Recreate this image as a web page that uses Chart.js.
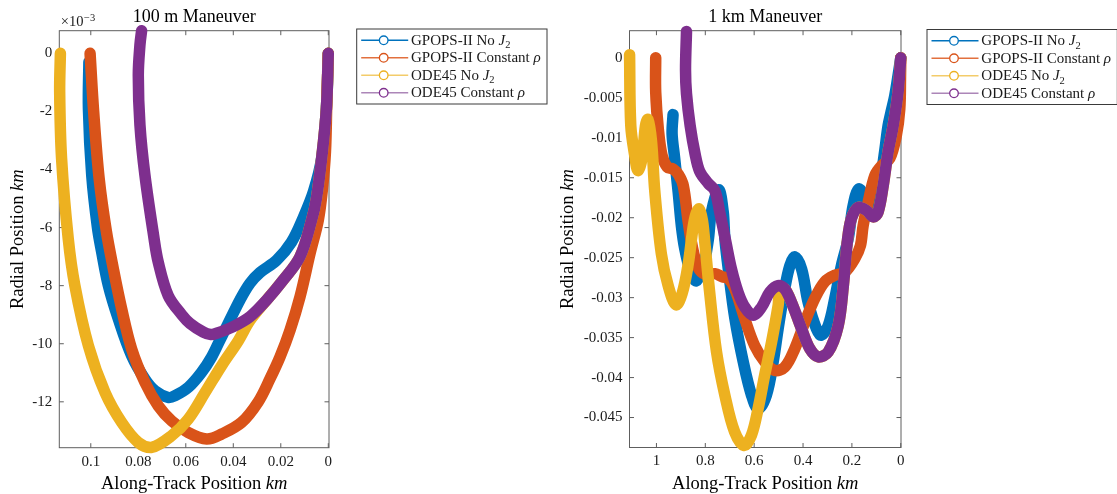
<!DOCTYPE html>
<html><head><meta charset="utf-8">
<script src="https://cdn.jsdelivr.net/npm/chart.js@4/dist/chart.umd.min.js"></script>
<style>
html,body{margin:0;padding:0;background:#fff;}
#wrap{position:relative;width:1117px;height:494px;overflow:hidden;background:#fff;}
canvas{position:absolute;left:0;top:0;}
</style></head><body>
<div id="wrap"><canvas id="c1" width="1117" height="494"></canvas><canvas id="c2" width="1117" height="494"></canvas></div>
<script>
// ---------- series labels / colours ----------
const seriesNames = ['GPOPS-II No $J_2$', 'GPOPS-II Constant $\\rho$', 'ODE45 No $J_2$', 'ODE45 Constant $\\rho$'];
const seriesColors = ['#0072BD', '#D95319', '#EDB120', '#7E2F8E'];
const legendLineColors = ['#0072BD', '#E2703E', '#F3CC6A', '#AC86B8'];

// ---------- 100 m maneuver (x: km, y: x10^-3 km) ----------
const m100XTicks = [0.1, 0.08, 0.06, 0.04, 0.02, 0];
const m100YTicks = [0, -2, -4, -6, -8, -10, -12];
const m100_gpopsNoJ2_x = [0, 0.0008, 0.0028, 0.0062, 0.0105, 0.0155, 0.0217, 0.0288, 0.033, 0.0372, 0.0414, 0.0456, 0.0491, 0.0535, 0.0589, 0.0645, 0.0674, 0.073, 0.0772, 0.0828, 0.0884, 0.0926, 0.0954, 0.0972, 0.0996, 0.101, 0.1008];
const m100_gpopsNoJ2_y = [0, -1.9, -3.62, -4.75, -5.65, -6.5, -7.12, -7.55, -7.92, -8.49, -9.18, -9.87, -10.45, -11.0, -11.5, -11.79, -11.85, -11.62, -11.22, -10.41, -9.15, -8.0, -6.85, -6.0, -4.2, -1.9, -0.3];
const m100_gpopsRho_x = [0, 0.0006, 0.0012, 0.0025, 0.0042, 0.0077, 0.0119, 0.0161, 0.0203, 0.0245, 0.0295, 0.0365, 0.0449, 0.0512, 0.0589, 0.0659, 0.0716, 0.0772, 0.0828, 0.087, 0.0905, 0.0935, 0.0965, 0.0988, 0.1003];
const m100_gpopsRho_y = [0, -1.6, -3.4, -4.7, -5.74, -6.9, -8.38, -9.53, -10.45, -11.2, -12.0, -12.71, -13.11, -13.28, -13.06, -12.66, -12.14, -11.33, -10.18, -8.8, -7.42, -6.1, -4.3, -2.0, 0];
const m100_odeNoJ2_x = [0, 0.0008, 0.0028, 0.005, 0.007, 0.0119, 0.0189, 0.0259, 0.033, 0.0379, 0.0449, 0.0519, 0.059, 0.066, 0.0744, 0.080, 0.087, 0.094, 0.101, 0.1067, 0.1095, 0.1123, 0.1131, 0.1128];
const m100_odeNoJ2_y = [0, -1.9, -3.62, -5.0, -5.74, -7.0, -7.8, -8.49, -9.2, -9.9, -10.75, -11.68, -12.6, -13.17, -13.57, -13.4, -12.71, -11.68, -10.07, -8.0, -6.38, -3.62, -1.33, 0];
const m100_odeRho_x = [0, 0.0008, 0.0028, 0.005, 0.007, 0.0119, 0.0189, 0.0259, 0.033, 0.04, 0.047, 0.0495, 0.0526, 0.0582, 0.0617, 0.0674, 0.0716, 0.0735, 0.0772, 0.0793, 0.080, 0.0793, 0.0786];
const m100_odeRho_y = [0, -1.9, -3.62, -5.0, -5.74, -7.0, -7.8, -8.49, -9.07, -9.41, -9.64, -9.68, -9.6, -9.3, -9.0, -8.34, -7.19, -6.3, -4.2, -2.47, -0.75, 0.29, 0.78];

// ---------- 1 km maneuver (x: km, y: km) ----------
const km1XTicks = [1, 0.8, 0.6, 0.4, 0.2, 0];
const km1YTicks = [0, -0.005, -0.01, -0.015, -0.02, -0.025, -0.03, -0.035, -0.04, -0.045];
const km1_gpopsNoJ2_x = [0, 0.01, 0.025, 0.04, 0.052, 0.065, 0.085, 0.105, 0.125, 0.147, 0.172, 0.195, 0.215, 0.243, 0.270, 0.297, 0.325, 0.345, 0.379, 0.406, 0.434, 0.454, 0.475, 0.502, 0.522, 0.55, 0.584, 0.611, 0.645, 0.679, 0.706, 0.72, 0.727, 0.745, 0.775, 0.788, 0.809, 0.837, 0.862, 0.884, 0.898, 0.911, 0.926, 0.936, 0.932];
const km1_gpopsNoJ2_y = [0, -0.002, -0.0048, -0.0068, -0.0085, -0.0115, -0.0158, -0.0188, -0.0198, -0.0176, -0.0164, -0.0185, -0.0226, -0.026, -0.0301, -0.0335, -0.0347, -0.0339, -0.0306, -0.0264, -0.0249, -0.026, -0.0289, -0.0339, -0.038, -0.0422, -0.0439, -0.0422, -0.038, -0.0326, -0.0264, -0.0226, -0.0192, -0.0165, -0.0193, -0.0228, -0.0262, -0.0279, -0.0266, -0.0239, -0.021, -0.0168, -0.0124, -0.0095, -0.0071];
const km1_gpopsRho_x = [0, 0.001, 0.004, 0.018, 0.045, 0.079, 0.106, 0.133, 0.154, 0.165, 0.188, 0.229, 0.270, 0.311, 0.352, 0.393, 0.434, 0.475, 0.516, 0.557, 0.598, 0.639, 0.679, 0.706, 0.73, 0.761, 0.8, 0.83, 0.852, 0.87, 0.89, 0.91, 0.932, 0.955, 0.977, 0.992, 1.003, 1.003];
const km1_gpopsRho_y = [0, -0.0025, -0.0064, -0.0097, -0.0126, -0.0135, -0.0147, -0.018, -0.021, -0.0235, -0.0251, -0.0268, -0.0272, -0.028, -0.0301, -0.0331, -0.0364, -0.0387, -0.0391, -0.038, -0.036, -0.0326, -0.0289, -0.0276, -0.0274, -0.027, -0.0271, -0.0262, -0.0238, -0.0205, -0.016, -0.0146, -0.0139, -0.0137, -0.0122, -0.009, -0.0043, 0];
const km1_odeNoJ2_x = [0, 0.011, 0.031, 0.052, 0.072, 0.093, 0.113, 0.140, 0.174, 0.202, 0.218, 0.235, 0.256, 0.297, 0.338, 0.372, 0.406, 0.447, 0.475, 0.495, 0.502, 0.529, 0.557, 0.584, 0.611, 0.641, 0.680, 0.72, 0.754, 0.783, 0.803, 0.812, 0.825, 0.838, 0.85, 0.87, 0.895, 0.92, 0.952, 0.98, 1.007, 1.020, 1.035, 1.045, 1.059, 1.076, 1.089, 1.105, 1.110];
const km1_odeNoJ2_y = [0, -0.0043, -0.0085, -0.0118, -0.016, -0.0193, -0.0199, -0.0191, -0.0187, -0.0201, -0.0228, -0.0285, -0.0335, -0.0368, -0.0374, -0.0364, -0.0339, -0.0306, -0.0289, -0.0292, -0.031, -0.0356, -0.0397, -0.0439, -0.0472, -0.0485, -0.0468, -0.0422, -0.0368, -0.0291, -0.0228, -0.0203, -0.0189, -0.0195, -0.0212, -0.0258, -0.0295, -0.0309, -0.0285, -0.0245, -0.0166, -0.0105, -0.0077, -0.0085, -0.0126, -0.0141, -0.0122, -0.0085, 0.0004];
const km1_odeRho_x = [0, 0.011, 0.031, 0.052, 0.072, 0.093, 0.113, 0.140, 0.174, 0.202, 0.218, 0.235, 0.256, 0.297, 0.338, 0.372, 0.406, 0.447, 0.475, 0.502, 0.536, 0.570, 0.604, 0.638, 0.666, 0.693, 0.716, 0.741, 0.761, 0.788, 0.823, 0.842, 0.862, 0.877, 0.881, 0.877];
const km1_odeRho_y = [0, -0.0043, -0.0085, -0.0118, -0.016, -0.0193, -0.0199, -0.0191, -0.0187, -0.0201, -0.0228, -0.0285, -0.0335, -0.0368, -0.0374, -0.0364, -0.0339, -0.0306, -0.0289, -0.0285, -0.0293, -0.0312, -0.0322, -0.0312, -0.0293, -0.0264, -0.023, -0.0193, -0.0166, -0.0157, -0.0142, -0.012, -0.0085, -0.0045, -0.0015, 0.0033];

// ---------- rendering helpers ----------
const FONT = "'Liberation Serif','Times New Roman',serif";
const TXT = '#1a1a1a';
const AXC = '#5e5e5e';

function richTokens(str){
  const out = [];
  str.split('$').forEach((s, i) => {
    if (!s) return;
    if (i % 2 === 0) { out.push({t: s, it: false, sub: false}); return; }
    s = s.replace(/\\rho/g, '\u03C1');
    const parts = s.split('_');
    if (parts[0]) out.push({t: parts[0], it: true, sub: false});
    if (parts[1]) out.push({t: parts[1], it: false, sub: true});
  });
  return out;
}
function tokFont(t, size){ return (t.it ? 'italic ' : '') + (t.sub ? size * 0.7 : size) + 'px ' + FONT; }
function drawRich(ctx, str, x, y, size, align, color){
  const toks = richTokens(str);
  let w = 0;
  toks.forEach(t => { ctx.font = tokFont(t, size); t.w = ctx.measureText(t.t).width; w += t.w; });
  let cx = align === 'center' ? x - w / 2 : (align === 'right' ? x - w : x);
  ctx.fillStyle = color; ctx.textAlign = 'left'; ctx.textBaseline = 'alphabetic';
  toks.forEach(t => { ctx.font = tokFont(t, size); ctx.fillText(t.t, cx, y + (t.sub ? size * 0.22 : 0)); cx += t.w; });
}

function framePlugin(p){
  return {
    id: 'frame_' + p.canvas,
    beforeDatasetsDraw(chart){
      const ctx = chart.ctx, a = chart.chartArea, xs = chart.scales.x, ys = chart.scales.y;
      ctx.save();
      ctx.strokeStyle = AXC; ctx.lineWidth = 1;
      ctx.strokeRect(a.left, a.top, a.right - a.left, a.bottom - a.top);
      ctx.beginPath();
      const tl = 4.5;
      p.xTicks.forEach(v => { const px = xs.getPixelForValue(v);
        ctx.moveTo(px, a.bottom); ctx.lineTo(px, a.bottom - tl);
        ctx.moveTo(px, a.top); ctx.lineTo(px, a.top + tl); });
      p.yTicks.forEach(v => { const py = ys.getPixelForValue(v);
        ctx.moveTo(a.left, py); ctx.lineTo(a.left + tl, py);
        ctx.moveTo(a.right, py); ctx.lineTo(a.right - tl, py); });
      ctx.stroke();
      ctx.restore();
    },
    afterDraw(chart){
      const ctx = chart.ctx, a = chart.chartArea;
      ctx.save();
      const cxm = (a.left + a.right) / 2, cym = (a.top + a.bottom) / 2;
      drawRich(ctx, p.title, cxm, 22.3, 18, 'center', '#000');
      drawRich(ctx, p.xlabel, cxm, 488.5, 18.5, 'center', '#000');
      ctx.save(); ctx.translate(p.ylabelX, cym); ctx.rotate(-Math.PI / 2);
      drawRich(ctx, p.ylabel, 0, 0, 18.5, 'center', '#000');
      ctx.restore();
      if (p.exponent) {
        ctx.fillStyle = TXT; ctx.textAlign = 'left'; ctx.textBaseline = 'alphabetic';
        ctx.font = '14.5px ' + FONT; ctx.fillText('\u00D710', a.left + 1.5, 25.8);
        const w = ctx.measureText('\u00D710').width;
        ctx.font = '10.5px ' + FONT; ctx.fillText('\u22123', a.left + 1.5 + w + 0.5, 20.8);
      }
      // legend
      const L = p.legend;
      ctx.fillStyle = '#fff'; ctx.fillRect(L.x, L.y, 190.3, 75);
      ctx.strokeStyle = '#3a3a3a'; ctx.lineWidth = 1; ctx.strokeRect(L.x, L.y, 190.3, 75);
      seriesNames.forEach((name, i) => {
        const ry = L.y + 11.3 + i * 17.5;
        ctx.strokeStyle = legendLineColors[i]; ctx.lineWidth = 1.4;
        ctx.beginPath(); ctx.moveTo(L.x + 4.5, ry); ctx.lineTo(L.x + 51.5, ry); ctx.stroke();
        ctx.fillStyle = '#fff'; ctx.strokeStyle = seriesColors[i]; ctx.lineWidth = 1.3;
        ctx.beginPath(); ctx.arc(L.x + 27, ry, 4.3, 0, Math.PI * 2); ctx.fill(); ctx.stroke();
        drawRich(ctx, name, L.x + 54.3, ry + 4.6, 15, 'left', TXT);
      });
      ctx.restore();
    }
  };
}

function buildChart(p){
  const datasets = p.series.map((s, i) => ({
    label: seriesNames[i],
    data: s[0].map((x, j) => ({x: x, y: s[1][j]})),
    borderColor: seriesColors[i],
    backgroundColor: seriesColors[i],
    borderWidth: 11.5,
    borderCapStyle: 'round',
    borderJoinStyle: 'round',
    pointRadius: 0, pointHoverRadius: 0,
    showLine: true, tension: 0.35, clip: 14,
    order: 4 - i
  }));
  const tickFont = {family: FONT, size: 15};
  return new Chart(document.getElementById(p.canvas), {
    type: 'scatter',
    data: {datasets},
    options: {
      responsive: false, animation: false, events: [],
      layout: {padding: {left: p.padL, top: p.area.top, right: 1117 - p.area.right, bottom: 0}},
      plugins: {legend: {display: false}, tooltip: {enabled: false}, title: {display: false}},
      scales: {
        x: {
          type: 'linear', reverse: true, min: p.xMin, max: p.xMax,
          afterBuildTicks: ax => { ax.ticks = p.xTicks.map(v => ({value: v})); },
          afterFit: ax => { ax.height = 494 - p.area.bottom; },
          grid: {display: false, drawTicks: false}, border: {display: false},
          ticks: {font: tickFont, color: TXT, padding: 5, maxRotation: 0, autoSkip: false, callback: v => String(v)}
        },
        y: {
          type: 'linear', min: p.yMin, max: p.yMax,
          afterBuildTicks: ax => { ax.ticks = p.yTicks.map(v => ({value: v})); },
          afterFit: ax => { ax.width = p.area.left - p.padL; },
          grid: {display: false, drawTicks: false}, border: {display: false},
          ticks: {font: tickFont, color: TXT, padding: 7, autoSkip: false, callback: v => String(v)}
        }
      }
    },
    plugins: [framePlugin(p)]
  });
}

buildChart({
  canvas: 'c1', title: '100 m Maneuver', xlabel: 'Along-Track Position $km$', ylabel: 'Radial Position $km$',
  padL: 0, area: {left: 59.3, right: 329, top: 30.7, bottom: 447.7},
  xMin: -0.0003, xMax: 0.11326, yMin: -13.58, yMax: 0.78,
  xTicks: m100XTicks, yTicks: m100YTicks, exponent: true, ylabelX: 22.5,
  legend: {x: 356.7, y: 29},
  series: [[m100_gpopsNoJ2_x, m100_gpopsNoJ2_y], [m100_gpopsRho_x, m100_gpopsRho_y], [m100_odeNoJ2_x, m100_odeNoJ2_y], [m100_odeRho_x, m100_odeRho_y]]
});
buildChart({
  canvas: 'c2', title: '1 km Maneuver', xlabel: 'Along-Track Position $km$', ylabel: 'Radial Position $km$',
  padL: 560, area: {left: 629.5, right: 901, top: 30.7, bottom: 447.5},
  xMin: -0.001, xMax: 1.1103, yMin: -0.04875, yMax: 0.0034,
  xTicks: km1XTicks, yTicks: km1YTicks, exponent: false, ylabelX: 572.5,
  legend: {x: 927, y: 29.5},
  series: [[km1_gpopsNoJ2_x, km1_gpopsNoJ2_y], [km1_gpopsRho_x, km1_gpopsRho_y], [km1_odeNoJ2_x, km1_odeNoJ2_y], [km1_odeRho_x, km1_odeRho_y]]
});
</script>
</body></html>
